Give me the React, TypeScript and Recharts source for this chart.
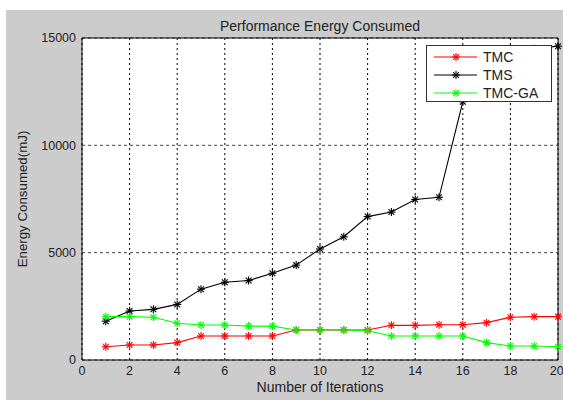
import { LineChart, Line, XAxis, YAxis, CartesianGrid, ReferenceLine } from 'recharts';

const iterations = [1, 2, 3, 4, 5, 6, 7, 8, 9, 10, 11, 12, 13, 14, 15, 16, 17, 18, 19, 20];
const tmc = [620, 700, 700, 810, 1120, 1120, 1120, 1120, 1400, 1400, 1400, 1400, 1615, 1615, 1640, 1640, 1740, 1990, 2020, 2020];
const tms = [1810, 2280, 2360, 2590, 3300, 3620, 3700, 4040, 4420, 5170, 5740, 6680, 6890, 7480, 7580, 12030, 13000, 13800, 14500, 14620];
const tmcGa = [2020, 2020, 1990, 1710, 1630, 1630, 1580, 1580, 1400, 1400, 1400, 1360, 1120, 1120, 1120, 1120, 810, 650, 650, 620];

const xTicks = [0, 2, 4, 6, 8, 10, 12, 14, 16, 18, 20];
const yTicks = [0, 5000, 10000, 15000];

const SERIES = [
  { key: 'tmc', name: 'TMC', color: '#ff0000' },
  { key: 'tms', name: 'TMS', color: '#000000' },
  { key: 'tmcGa', name: 'TMC-GA', color: '#00ff00' },
];

const data = iterations.map((it, i) => ({ it, tmc: tmc[i], tms: tms[i], tmcGa: tmcGa[i] }));

const FONT = '"Liberation Sans", Arial, sans-serif';

function Asterisk({ cx, cy, stroke, r = 4 }: { cx: number; cy: number; stroke: string; r?: number }) {
  const d = r * 0.72;
  return (
    <g stroke={stroke} strokeWidth={1.1}>
      <line x1={cx - r} y1={cy} x2={cx + r} y2={cy} />
      <line x1={cx} y1={cy - r} x2={cx} y2={cy + r} />
      <line x1={cx - d} y1={cy - d} x2={cx + d} y2={cy + d} />
      <line x1={cx - d} y1={cy + d} x2={cx + d} y2={cy - d} />
    </g>
  );
}

const renderDot = (props: any) => {
  const { cx, cy, stroke, index, dataKey } = props;
  if (cx == null || cy == null) return <g key={`${dataKey}-${index}`} />;
  return (
    <g key={`${dataKey}-${index}`}>
      <Asterisk cx={cx} cy={cy} stroke={stroke} />
    </g>
  );
};

export default function App() {
  return (
    <div style={{ position: 'absolute', left: 0, top: 0, width: 563, height: 400, background: '#fff', overflow: 'hidden', fontFamily: FONT }}>
      <div style={{ position: 'absolute', left: 6, top: 10, width: 557, height: 390, background: '#cccccc' }} />
      <div style={{ position: 'absolute', left: 0, top: 0 }}>
        <LineChart width={563} height={400} data={data} margin={{ top: 38, right: 5, bottom: 0, left: 0 }}>
          <CartesianGrid fill="#fff" vertical={false} stroke="#444" strokeDasharray="3 3" />
          <CartesianGrid horizontal={false} stroke="#000" strokeDasharray="2 3" />
          <XAxis
            dataKey="it"
            type="number"
            domain={[0, 20]}
            ticks={xTicks}
            height={40}
            tickLine={false}
            tickSize={4}
            tickMargin={2}
            axisLine={{ stroke: '#000' }}
            tick={{ fill: '#222', fontSize: 12.5, fontFamily: FONT }}
          />
          <YAxis
            type="number"
            domain={[0, 15000]}
            ticks={yTicks}
            width={82}
            tickLine={false}
            tickSize={4}
            tickMargin={2}
            axisLine={{ stroke: '#000' }}
            tick={{ fill: '#222', fontSize: 12.5, fontFamily: FONT }}
          />
          <ReferenceLine y={15000} stroke="#000" />
          <ReferenceLine x={20} stroke="#000" />
          {SERIES.map((s) => (
            <Line
              key={s.key}
              dataKey={s.key}
              name={s.name}
              stroke={s.color}
              strokeWidth={1.1}
              dot={renderDot}
              activeDot={false}
              isAnimationActive={false}
              type="linear"
            />
          ))}
        </LineChart>
      </div>
      <div style={{ position: 'absolute', left: 82, width: 476, top: 18, textAlign: 'center', fontSize: 14, color: '#222' }}>
        Performance Energy Consumed
      </div>
      <div style={{ position: 'absolute', left: 82, width: 476, top: 379, textAlign: 'center', fontSize: 14, color: '#222' }}>
        Number of Iterations
      </div>
      <div
        style={{
          position: 'absolute',
          left: 22,
          top: 199,
          transform: 'translate(-50%, -50%) rotate(-90deg)',
          whiteSpace: 'nowrap',
          fontSize: 13.3,
          color: '#222',
        }}
      >
        Energy Consumed(mJ)
      </div>
      <div
        style={{
          position: 'absolute',
          left: 426,
          top: 45,
          width: 124,
          height: 55,
          background: '#fff',
          border: '1px solid #333',
        }}
      >
        {SERIES.map((s, i) => (
          <div key={s.key} style={{ position: 'absolute', left: 0, top: 3 + i * 18, height: 16, width: 124 }}>
            <svg width={50} height={16} style={{ position: 'absolute', left: 7, top: 0 }}>
              <line x1={0} y1={8} x2={43} y2={8} stroke={s.color} strokeWidth={1.1} />
              <Asterisk cx={22} cy={8} stroke={s.color} />
            </svg>
            <span style={{ position: 'absolute', left: 56, top: -1, fontSize: 14, lineHeight: '18px', color: '#222' }}>{s.name}</span>
          </div>
        ))}
      </div>
    </div>
  );
}
